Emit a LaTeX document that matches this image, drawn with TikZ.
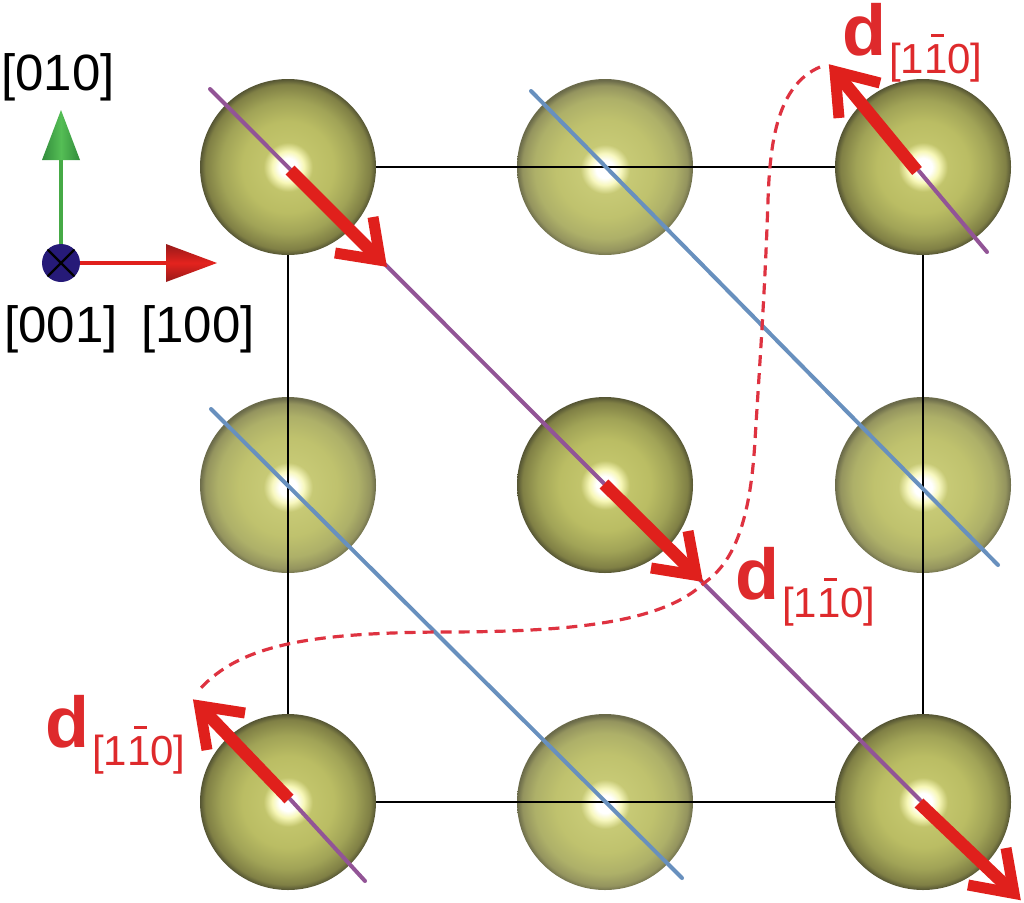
\documentclass[tikz,border=0pt]{standalone}
\usepackage{fontspec}
\setmainfont{Liberation Sans}
\usetikzlibrary{calc}
\definecolor{cred}{RGB}{224,32,28}
\definecolor{tred}{RGB}{222,42,44}
\definecolor{dashred}{RGB}{222,50,64}
\definecolor{cpurple}{RGB}{146,84,150}
\definecolor{cblue}{RGB}{104,144,190}
\definecolor{cnavy}{RGB}{38,26,120}
\pgfdeclareradialshading{ballA}{\pgfpoint{0bp}{0bp}}{
  rgb(0bp)=(1,1,1);rgb(2.5bp)=(1,1,1);rgb(4.5bp)=(0.97,0.97,0.72);
  rgb(7bp)=(0.76,0.77,0.42);rgb(13bp)=(0.73,0.74,0.39);
  rgb(19bp)=(0.63,0.64,0.34);rgb(23.5bp)=(0.50,0.50,0.27);
  rgb(25bp)=(0.33,0.33,0.20);rgb(50bp)=(0.33,0.33,0.20)}
\pgfdeclareradialshading{ballB}{\pgfpoint{0bp}{-0.7bp}}{
  rgb(0bp)=(1,1,1);rgb(2.5bp)=(1,1,1);rgb(4.5bp)=(0.97,0.97,0.75);
  rgb(7bp)=(0.78,0.79,0.46);rgb(14bp)=(0.75,0.76,0.43);
  rgb(20bp)=(0.68,0.69,0.41);rgb(23.5bp)=(0.58,0.58,0.37);
  rgb(25bp)=(0.42,0.42,0.29);rgb(50bp)=(0.42,0.42,0.29)}
\tikzset{
  ballbase/.style={circle,minimum size=176pt,inner sep=0pt,outer sep=0pt},
  balldark/.style={ballbase,shading=ballA},
  ballpale/.style={ballbase,shading=ballB},
  celledge/.style={draw=black,line width=2.7pt},
  purpleline/.style={draw=cpurple,line width=4pt,line cap=round},
  blueline/.style={draw=cblue,line width=4pt,line cap=round},
  shaftline/.style={draw=cred,line width=12.5pt},
  armline/.style={draw=cred,line width=11pt,miter limit=10},
  dashline/.style={draw=dashred,line width=3.2pt,dash pattern=on 11pt off 7pt},
  axislabel/.style={anchor=base west,inner sep=0pt,font=\fontsize{51}{51}\selectfont},
  dlab/.style={anchor=base west,inner sep=0pt,text=tred},
}
\newcommand{\barone}{\leavevmode\rlap{\hspace{.17em}\raisebox{.85em}{\rule{.3em}{.09em}}}1}
\newcommand{\dsub}{{\fontsize{72}{72}\selectfont\bfseries d}\hspace{3pt}\raisebox{-18pt}{\fontsize{42}{42}\selectfont [1\barone 0]}}
\begin{document}
\begin{tikzpicture}[x=1pt,y=-1pt]
\useasboundingbox (0,0) rectangle (1024,902);
% atoms
\node[balldark] (b11) at (288,167) {};
\node[ballpale] (b12) at (605,167) {};
\node[balldark] (b13) at (923,167) {};
\node[ballpale] (b21) at (288,485) {};
\node[balldark] (b22) at (605,485) {};
\node[ballpale] (b23) at (923,485) {};
\node[balldark] (b31) at (288,802) {};
\node[ballpale] (b32) at (605,802) {};
\node[balldark] (b33) at (923,802) {};
% cell edges
\draw[celledge] (b11) -- (b13);
\draw[celledge] (b31) -- (b33);
\draw[celledge] (b11) -- (b31);
\draw[celledge] (b13) -- (b33);
% diagonals
\coordinate (p0) at (210,89);
\coordinate (p1) at (920,800);
\coordinate (p2) at (919,171);
\coordinate (p3) at (987,252);
\coordinate (p4) at (290,799);
\coordinate (p5) at (365,881);
\coordinate (q0) at (531,91);
\coordinate (q1) at (998,565);
\coordinate (q2) at (211,409);
\coordinate (q3) at (682,878);
\draw[purpleline] (p0) -- (p1);
\draw[purpleline] (p2) -- (p3);
\draw[purpleline] (p4) -- (p5);
\draw[blueline] (q0) -- (q1);
\draw[blueline] (q2) -- (q3);
% dashed guide
\coordinate (d0) at (820,67);
\coordinate (d1) at (704,583);
\coordinate (d2) at (200,689);
\draw[dashline] (d0) .. controls (778,85) and (770,140) .. (768,200)
  .. controls (765,290) and (760,360) .. (755,440)
  .. controls (750,530) and (730,565) .. (d1)
  .. controls (660,625) and (560,632) .. (440,632)
  .. controls (310,633) and (240,645) .. (d2);
% displacement arrows
\foreach \nm/\sx/\sy/\tx/\ty/\ax/\ay/\bx/\by in {
  A/290/170/388/268/373/217/335/253,
  B/604/484/704/583/688/531/651/568,
  C/917/171/828/63/880/83/839/118,
  D/289/799/192/698/245/713/207/750,
  E/919/803/1022/901/1006/848/968/885}{
  \coordinate (s\nm) at (\sx,\sy);
  \coordinate (t\nm) at (\tx,\ty);
  \coordinate (a\nm) at (\ax,\ay);
  \coordinate (b\nm) at (\bx,\by);
  \draw[shaftline] (s\nm) -- ($(t\nm)!14pt!(s\nm)$);
  \draw[armline] (a\nm) -- ($(t\nm)!11pt!(s\nm)$) -- (b\nm);
}
% axes
\node[circle,minimum size=38pt,inner sep=0pt,fill=cnavy,path picture={
  \draw[black,line width=2.3pt] (path picture bounding box.north west) -- (path picture bounding box.south east);
  \draw[black,line width=2.3pt] (path picture bounding box.north east) -- (path picture bounding box.south west);
}] (ax) at (61,263) {};
\coordinate (gb) at (61,160);
\coordinate (rb) at (166,263);
\draw[draw={rgb,255:red,70;green,170;blue,70},line width=3.6pt] (ax) -- (gb);
\draw[draw=cred,line width=3.6pt] (ax) -- (rb);
\shade[left color={rgb,255:red,50;green,140;blue,60},right color={rgb,255:red,50;green,140;blue,60},middle color={rgb,255:red,85;green,190;blue,85}]
  (42,160) -- (61,110) -- (80,160) -- cycle;
\shade[top color={rgb,255:red,150;green,25;blue,25},bottom color={rgb,255:red,150;green,25;blue,25},middle color={rgb,255:red,228;green,35;blue,30}]
  (166,244) -- (217,263) -- (166,282) -- cycle;
% labels
\node[axislabel] (l010) at (1,90) {[010]};
\node[axislabel] (l001) at (4,342) {[001]};
\node[axislabel] (l100) at (141,342) {[100]};
\node[dlab] (d1lab) at (842,55) {\dsub};
\node[dlab] (d2lab) at (735,599) {\dsub};
\node[dlab] (d3lab) at (45,747) {\dsub};
\end{tikzpicture}
\end{document}
